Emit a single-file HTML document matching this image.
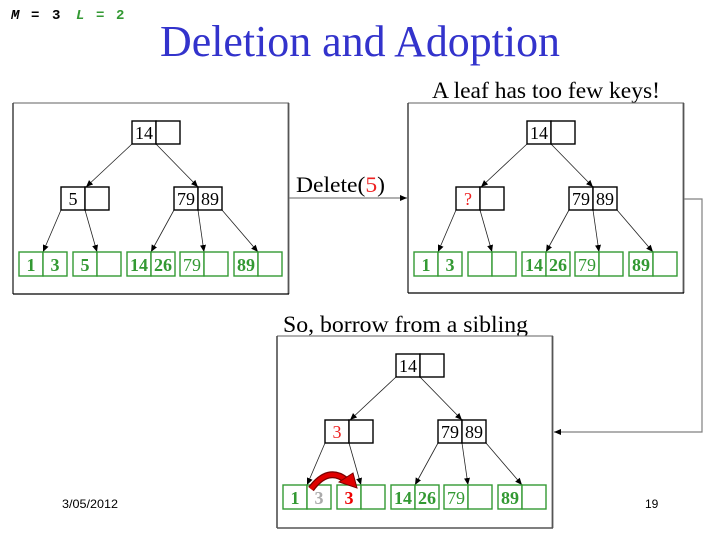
<!DOCTYPE html>
<html><head><meta charset="utf-8"><style>
html,body{margin:0;padding:0;background:#fff;}
svg{display:block;}
</style></head><body>
<svg width="720" height="540" viewBox="0 0 720 540" xmlns="http://www.w3.org/2000/svg">
<defs>
<marker id="ah" markerWidth="8" markerHeight="8" refX="7" refY="4" orient="auto" markerUnits="userSpaceOnUse">
<path d="M0,1 L7,4 L0,7 Z" fill="#000"/>
</marker>
<g id="tree">
 <!-- edges -->
 <g stroke="#222" stroke-width="0.8" fill="none" marker-end="url(#ah)">
  <line x1="132" y1="144" x2="86" y2="187"/>
  <line x1="156" y1="144" x2="198" y2="187"/>
  <line x1="61" y1="210" x2="43" y2="252"/>
  <line x1="85" y1="210" x2="97" y2="252"/>
  <line x1="174" y1="210" x2="151" y2="252"/>
  <line x1="198" y1="210" x2="204" y2="252"/>
  <line x1="222" y1="210" x2="258" y2="252"/>
 </g>
 <!-- internal nodes -->
 <g fill="#fff" stroke="#000" stroke-width="1.4">
  <rect x="132" y="121" width="24" height="23"/><rect x="156" y="121" width="24" height="23"/>
  <rect x="61" y="187" width="24" height="23"/><rect x="85" y="187" width="24" height="23"/>
  <rect x="174" y="187" width="24" height="23"/><rect x="198" y="187" width="24" height="23"/>
 </g>
 <!-- leaves -->
 <g fill="#fff" stroke="#339933" stroke-width="1.4">
  <rect x="19" y="252" width="24" height="24"/><rect x="43" y="252" width="24" height="24"/>
  <rect x="73" y="252" width="24" height="24"/><rect x="97" y="252" width="24" height="24"/>
  <rect x="127" y="252" width="24" height="24"/><rect x="151" y="252" width="24" height="24"/>
  <rect x="180" y="252" width="24" height="24"/><rect x="204" y="252" width="24" height="24"/>
  <rect x="234" y="252" width="24" height="24"/><rect x="258" y="252" width="24" height="24"/>
 </g>
 <g font-family="Liberation Serif, serif" font-size="18" text-anchor="middle">
  <text x="144" y="139">14</text>
  <text x="186" y="205">79</text><text x="210" y="205">89</text>
 </g>
 <g font-family="Liberation Serif, serif" font-size="18" text-anchor="middle" fill="#339933" font-weight="bold">
  <text x="139" y="271">14</text><text x="163" y="271">26</text>
  <text x="192" y="271" font-weight="normal">79</text>
  <text x="246" y="271">89</text>
 </g>
</g>
</defs>

<!-- header -->
<g font-family="Liberation Mono, monospace" font-size="14" font-weight="bold">
 <text x="11" y="19" font-style="italic">M</text>
 <text x="31" y="19">=</text>
 <text x="52" y="19">3</text>
 <text x="76" y="19" font-style="italic" fill="#339933">L</text>
 <text x="96" y="19" fill="#339933">=</text>
 <text x="116" y="19" fill="#339933">2</text>
</g>
<text x="360" y="56" text-anchor="middle" font-family="Liberation Serif, serif" font-size="44" fill="#3333CC" textLength="400" lengthAdjust="spacingAndGlyphs">Deletion and Adoption</text>

<!-- Box 1 -->
<rect x="13" y="103" width="276" height="191" fill="#fff" stroke="none"/>
<line x1="13" y1="103" x2="289" y2="103" stroke="#808080" stroke-width="1.2"/>
<line x1="288.5" y1="103" x2="288.5" y2="294" stroke="#555" stroke-width="1.8"/>
<line x1="13" y1="103" x2="13" y2="294" stroke="#444" stroke-width="1.5"/>
<line x1="13" y1="294" x2="289" y2="294" stroke="#000" stroke-width="1.3"/>
<use href="#tree"/>
<g font-family="Liberation Serif, serif" font-size="18" text-anchor="middle">
 <text x="73" y="205">5</text>
</g>
<g font-family="Liberation Serif, serif" font-size="18" text-anchor="middle" fill="#339933" font-weight="bold">
 <text x="31" y="271">1</text><text x="55" y="271">3</text><text x="85" y="271">5</text>
</g>

<!-- Delete connector -->
<line x1="289" y1="198" x2="407" y2="198" stroke="#808080" stroke-width="1.2" marker-end="url(#ah)"/>
<text x="296" y="192" font-family="Liberation Serif, serif" font-size="22.5" textLength="89" lengthAdjust="spacingAndGlyphs">Delete(<tspan fill="#ee2222">5</tspan>)</text>

<!-- Box 2 -->
<text x="546" y="98" text-anchor="middle" font-family="Liberation Serif, serif" font-size="23" textLength="228" lengthAdjust="spacingAndGlyphs">A leaf has too few keys!</text>
<rect x="408" y="103" width="276" height="190" fill="#fff" stroke="none"/>
<line x1="408" y1="103" x2="684" y2="103" stroke="#808080" stroke-width="1.2"/>
<line x1="683.5" y1="103" x2="683.5" y2="293" stroke="#555" stroke-width="1.8"/>
<line x1="408" y1="103" x2="408" y2="293" stroke="#444" stroke-width="1.5"/>
<line x1="408" y1="293" x2="684" y2="293" stroke="#000" stroke-width="1.3"/>
<g transform="translate(395,0)">
 <use href="#tree"/>
 <text x="73" y="205" font-family="Liberation Serif, serif" font-size="18" text-anchor="middle" fill="#ee2222">?</text>
 <g font-family="Liberation Serif, serif" font-size="18" text-anchor="middle" fill="#339933" font-weight="bold">
  <text x="31" y="271">1</text><text x="55" y="271">3</text>
 </g>
</g>

<!-- right connector -->
<polyline points="684,199 702,199 702,432 554,432" fill="none" stroke="#808080" stroke-width="1.2" marker-end="url(#ah)"/>

<!-- Box 3 -->
<text x="283" y="332" font-family="Liberation Serif, serif" font-size="23" textLength="245" lengthAdjust="spacingAndGlyphs">So, borrow from a sibling</text>
<rect x="277" y="336" width="276" height="192" fill="#fff" stroke="none"/>
<line x1="277" y1="336" x2="553" y2="336" stroke="#808080" stroke-width="1.2"/>
<line x1="552.5" y1="336" x2="552.5" y2="528" stroke="#555" stroke-width="1.8"/>
<line x1="277" y1="336" x2="277" y2="528" stroke="#444" stroke-width="1.5"/>
<line x1="277" y1="528" x2="553" y2="528" stroke="#555" stroke-width="1.5"/>
<g transform="translate(264,233)">
 <use href="#tree"/>
 <text x="73" y="205" font-family="Liberation Serif, serif" font-size="18" text-anchor="middle" fill="#ee2222">3</text>
 <g font-family="Liberation Serif, serif" font-size="18" text-anchor="middle" font-weight="bold">
  <text x="31" y="271" fill="#339933">1</text>
  <text x="55" y="271" fill="#aaaaaa">3</text>
  <text x="85" y="271" fill="#ee0000">3</text>
 </g>
</g>
<!-- red curved arrow -->
<path d="M311,489 Q328,466 346,480" fill="none" stroke="#7a0000" stroke-width="7"/>
<path d="M311,489 Q328,466 346,480" fill="none" stroke="#e00000" stroke-width="4.5"/>
<polygon points="339,482 353,473 357,488" fill="#e00000" stroke="#7a0000" stroke-width="1"/>

<!-- footer -->
<text x="62" y="508" font-family="Liberation Sans, sans-serif" font-size="12" textLength="56" lengthAdjust="spacingAndGlyphs">3/05/2012</text>
<text x="645" y="508" font-family="Liberation Sans, sans-serif" font-size="12">19</text>
</svg>
</body></html>
